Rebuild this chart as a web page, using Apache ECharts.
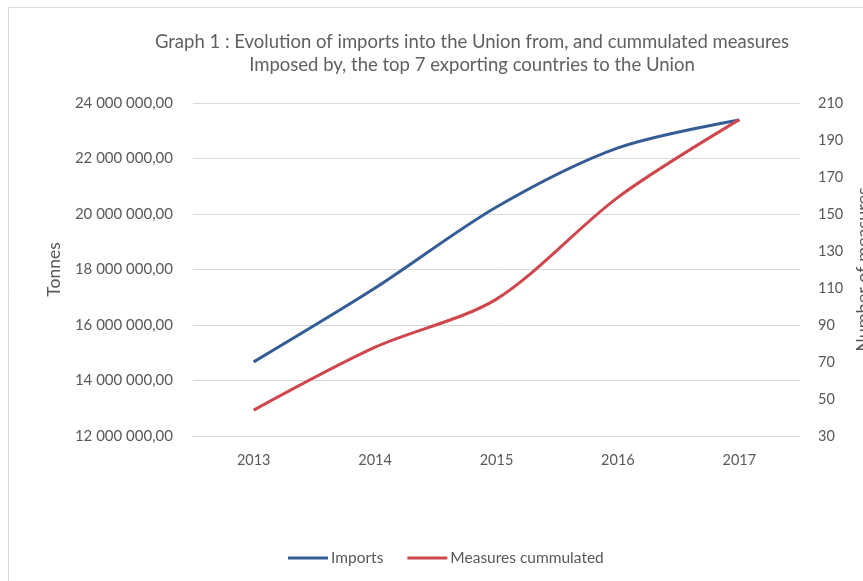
<!DOCTYPE html>
<html><head><meta charset="utf-8">
<script src="https://cdn.jsdelivr.net/npm/echarts@6/dist/echarts.min.js"></script>
<style>html,body{margin:0;padding:0;background:#fff}#c{width:863px;height:581px}</style>
</head><body><div id="c"></div>
<script>
const years = ['2013','2014','2015','2016','2017'];
const imports = [14670000, 17330000, 20250000, 22380000, 23390000];
const measures = [44, 78, 104, 159, 201];
const leftTicks = {min: 12000000, max: 24000000, interval: 2000000};
const rightTicks = {min: 30, max: 210, interval: 20};

const FONT = 'Lato';
const GREY = '#595959';
function fmtTonnes(v){
  const s = Math.round(v).toString().replace(/\B(?=(\d{3})+(?!\d))/g, ' ');
  return s + ',00';
}
const chart = echarts.init(document.getElementById('c'));
chart.setOption({
  animation: false,
  textStyle: {fontFamily: FONT},
  graphic: [{type:'rect', shape:{x:8.5,y:7.5,width:900,height:600}, style:{fill:'none', stroke:'#d9d9d9', lineWidth:1}, silent:true}],
  title: {
    text: 'Graph 1 : Evolution of imports into the Union from, and cummulated measures\nImposed by, the top 7 exporting countries to the Union',
    left: 467, top: 26, textAlign: 'center',
    textStyle: {fontFamily: FONT, fontSize: 18.5, fontWeight: 'normal', color: '#606060', lineHeight: 23}
  },
  legend: {
    bottom: 10, left: 283,
    itemWidth: 40, itemHeight: 3, itemGap: 24,
    icon: 'rect',
    textStyle: {fontFamily: FONT, fontSize: 15.5, color: GREY, padding:[0,0,0,-2]},
    data: ['Imports', 'Measures cummulated']
  },
  grid: {left: 193, right: 63, top: 103, bottom: 145, containLabel: false, outerBoundsMode: 'none'},
  xAxis: {
    type: 'category', data: years, boundaryGap: true,
    axisLine: {lineStyle: {color: '#d9d9d9'}},
    axisTick: {show: false},
    axisLabel: {color: GREY, fontSize: 14.5, margin: 17, fontFamily: FONT}
  },
  yAxis: [{
    type: 'value', min: leftTicks.min, max: leftTicks.max, interval: leftTicks.interval,
    name: 'Tonnes', nameLocation: 'middle', nameRotate: 90, nameGap: 130,
    nameTextStyle: {color: GREY, fontSize: 17.5, fontFamily: FONT},
    axisLine: {show: false}, axisTick: {show: false},
    axisLabel: {color: GREY, fontSize: 15, margin: 20, formatter: fmtTonnes, fontFamily: FONT},
    splitLine: {lineStyle: {color: '#d9d9d9'}}
  }, {
    type: 'value', min: rightTicks.min, max: rightTicks.max, interval: rightTicks.interval,
    position: 'right',
    name: 'Number of measures', nameLocation: 'middle', nameRotate: 90, nameGap: 35,
    nameTextStyle: {color: GREY, fontSize: 18, fontFamily: FONT},
    axisLine: {show: false}, axisTick: {show: false},
    axisLabel: {color: GREY, fontSize: 14.5, margin: 18, fontFamily: FONT},
    splitLine: {show: false}
  }],
  series: [{
    name: 'Imports', type: 'line', yAxisIndex: 0, data: imports,
    smooth: 0.3, symbol: 'none',
    lineStyle: {color: '#345d96', width: 3}, itemStyle: {color: '#345d96'}
  }, {
    name: 'Measures cummulated', type: 'line', yAxisIndex: 1, data: measures,
    smooth: 0.3, symbol: 'none',
    lineStyle: {color: '#cf464c', width: 3}, itemStyle: {color: '#cf464c'}
  }]
});
</script></body></html>
